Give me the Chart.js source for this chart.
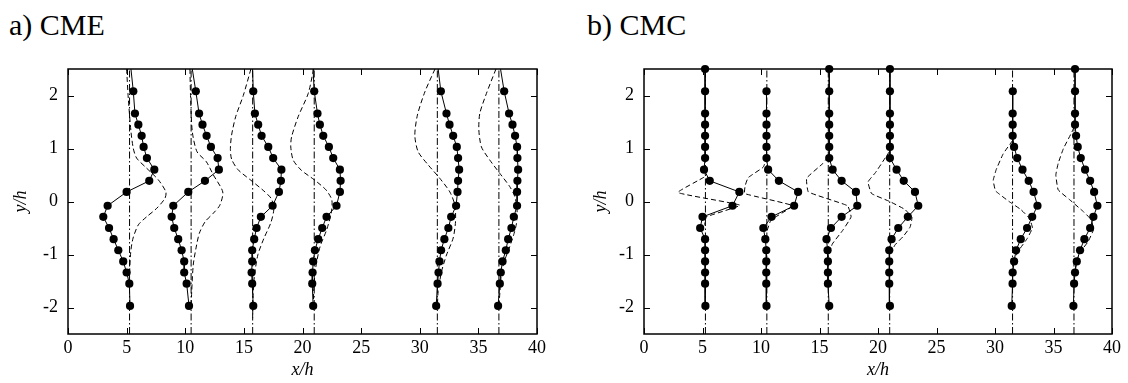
<!DOCTYPE html>
<html><head><meta charset="utf-8">
<script src="https://cdn.jsdelivr.net/npm/chart.js@4/dist/chart.umd.min.js"></script>
<style>
html,body{margin:0;padding:0;background:#fff;}
body{width:1128px;height:383px;position:relative;overflow:hidden;}
.ttl{position:absolute;font-family:"Liberation Serif","Times New Roman",serif;font-size:30px;line-height:30px;color:#000;white-space:nowrap;}
canvas{position:absolute;top:0;}
</style></head><body>
<div class="ttl" style="left:9px;top:10px">a) CME</div>
<div class="ttl" style="left:587px;top:10px">b) CMC</div>
<canvas id="cA" width="560" height="383" style="left:0"></canvas>
<canvas id="cB" width="568" height="383" style="left:560px"></canvas>
<script>
// ---- data ----
const yLevels = [2.5, 2.08, 1.66, 1.45, 1.24, 1.03, 0.82, 0.60, 0.39, 0.18, -0.08, -0.29, -0.50, -0.71, -0.92, -1.13, -1.34, -1.55, -1.97];
const stations = [5.25, 10.5, 15.75, 21, 31.5, 36.75];
const xTicks = [0, 5, 10, 15, 20, 25, 30, 35, 40];
const yTicks = [-2, -1, 0, 1, 2];

// CME measured profiles (x/h position of each dot, aligned with yLevels; first entry = line end at top)
const cme1 = [5.37, 5.57, 5.71, 6.0, 6.28, 6.45, 6.73, 7.36, 6.93, 5.0, 3.38, 3.01, 3.50, 3.89, 4.29, 4.71, 5.0, 5.23, 5.29];
const cme2 = [10.6, 10.9, 11.18, 11.47, 11.82, 12.19, 12.76, 12.87, 11.68, 10.26, 8.98, 8.84, 9.06, 9.40, 9.69, 9.91, 9.91, 10.12, 10.32];
const cme3 = [15.74, 15.8, 15.94, 16.22, 16.51, 17.08, 17.50, 18.2, 18.16, 17.99, 17.45, 16.45, 16.08, 15.88, 15.71, 15.71, 15.66, 15.71, 15.80];
const cme4 = [20.9, 21.0, 21.28, 21.48, 21.77, 22.25, 22.62, 23.19, 23.25, 23.19, 22.9, 22.05, 21.68, 21.34, 21.06, 20.91, 20.86, 20.83, 20.91];
const cme5 = [31.57, 31.8, 32.28, 32.54, 32.85, 33.16, 33.27, 33.36, 33.27, 33.22, 33.1, 32.68, 32.44, 32.1, 31.82, 31.68, 31.6, 31.52, 31.4];
const cme6 = [36.89, 37.2, 37.62, 37.91, 38.13, 38.3, 38.33, 38.39, 38.33, 38.3, 38.3, 38.02, 37.82, 37.54, 37.34, 37.06, 36.91, 36.83, 36.68];

// CMC measured profiles (null = no dot)
const cmc1 = [5.22, 5.22, 5.22, 5.22, 5.22, 5.22, 5.22, 5.13, 5.62, 8.15, 7.56, 5.0, 4.8, 5.22, 5.22, 5.22, 5.22, 5.22, 5.25];
const cmc2 = [null, 10.47, 10.47, 10.47, 10.47, 10.47, 10.47, 10.61, 11.53, 13.17, 12.83, 10.9, 10.2, 10.37, 10.45, 10.45, 10.45, 10.45, 10.47];
const cmc3 = [15.83, 15.83, 15.83, 15.83, 15.83, 15.83, 15.83, 16.12, 16.89, 18.11, 18.23, 16.89, 15.98, 15.6, 15.69, 15.72, 15.72, 15.72, 15.83];
const cmc4 = [21.02, 21.02, 21.02, 21.02, 21.02, 21.02, 21.02, 21.59, 22.2, 23.16, 23.44, 22.55, 21.73, 21.16, 20.96, 20.96, 20.96, 20.96, 21.02];
const cmc5 = [null, 31.52, 31.51, 31.51, 31.51, 31.63, 31.9, 32.35, 32.88, 33.3, 33.63, 33.18, 32.74, 32.2, 31.8, 31.63, 31.51, 31.5, 31.43];
const cmc6 = [36.84, 36.84, 36.84, 36.84, 36.93, 37.07, 37.33, 37.7, 38.13, 38.47, 38.75, 38.41, 38.13, 37.64, 37.27, 36.99, 36.84, 36.76, 36.7];

// model curves: [y/h, x/h] pairs
const cmeDash1 = [[2.5,5.0],[1.95,5.14],[1.32,5.37],[1.0,5.57],[0.82,5.85],[0.63,6.7],[0.41,7.7],[0.18,8.35],[0.06,8.27],[-0.13,7.56],[-0.29,6.7],[-0.44,6.0],[-0.69,5.55],[-0.95,5.35],[-1.5,5.22]];
const cmeDash2 = [[2.5,10.4],[2.0,10.45],[1.32,10.6],[0.94,11.0],[0.75,11.8],[0.5,12.4],[0.18,13.2],[-0.07,12.95],[-0.22,12.4],[-0.38,11.7],[-0.6,11.2],[-0.9,10.9],[-1.2,10.68],[-1.7,10.55],[-2.0,10.5]];
const cmeDash3 = [[2.5,15.6],[2.0,14.95],[1.6,14.3],[1.25,13.95],[1.0,13.85],[0.8,13.95],[0.6,14.5],[0.4,15.6],[0.2,16.7],[0.05,17.35],[-0.15,17.55],[-0.4,17.3],[-0.7,16.7],[-1.0,16.2],[-1.4,15.9],[-1.8,15.78],[-2.2,15.75]];
const cmeDash4 = [[2.5,20.95],[2.04,20.49],[1.6,19.63],[1.22,19.07],[1.03,19.0],[0.78,19.21],[0.59,19.9],[0.41,21.0],[0.22,22.0],[0.03,22.5],[-0.22,22.45],[-0.54,22.05],[-0.85,21.5],[-1.23,21.14],[-1.61,20.97],[-2.0,20.92]];
const cmeDash5 = [[2.5,31.3],[2.07,30.44],[1.63,29.8],[1.25,29.58],[0.94,29.86],[0.69,30.72],[0.44,31.7],[0.18,32.57],[-0.07,33.0],[-0.38,33.05],[-0.69,32.85],[-1.01,32.28],[-1.32,31.86],[-1.7,31.57],[-2.0,31.5]];
const cmeDash6 = [[2.5,36.5],[2.04,35.69],[1.66,35.12],[1.35,35.04],[1.03,35.26],[0.78,35.98],[0.53,36.83],[0.28,37.68],[0.09,38.11],[-0.16,38.3],[-0.41,38.25],[-0.6,38.05],[-0.85,37.68],[-1.1,37.26],[-1.35,36.97],[-1.73,36.83],[-2.0,36.75]];

const cmcDash1 = [[0.6,5.25],[0.47,5.2],[0.17,2.9],[-0.07,8.2],[-0.3,5.2],[-0.45,5.2]];
const cmcDash2 = [[0.85,10.5],[0.65,10.2],[0.45,8.9],[0.3,8.65],[0.15,8.6],[-0.08,12.7],[-0.35,10.85],[-0.6,10.45]];
const cmcDash3 = [[0.85,15.75],[0.72,15.3],[0.44,13.9],[0.18,14.05],[-0.08,17.4],[-0.29,17.7],[-0.54,17.0],[-0.8,16.1],[-1.0,15.8]];
const cmcDash4 = [[0.95,21.0],[0.85,20.7],[0.55,19.8],[0.37,19.15],[0.15,19.45],[0.0,21.0],[-0.15,22.3],[-0.3,22.9],[-0.48,22.75],[-0.66,22.15],[-0.82,21.45],[-1.0,21.05]];
const cmcDash5 = [[1.15,31.5],[0.9,30.7],[0.6,30.1],[0.4,29.85],[0.2,30.05],[0.0,31.2],[-0.15,32.2],[-0.32,32.95],[-0.5,33.2],[-0.7,32.75],[-0.9,32.1],[-1.07,31.7],[-1.3,31.5]];
const cmcDash6 = [[1.4,36.75],[1.3,36.55],[1.0,35.85],[0.72,35.4],[0.5,35.2],[0.22,35.4],[0.03,36.4],[-0.19,37.55],[-0.35,38.25],[-0.54,38.4],[-0.76,37.95],[-0.92,37.4],[-1.1,37.0],[-1.35,36.8]];

// ---- drawing ----
const SERIF = '"Liberation Serif","Times New Roman",serif';

const framePlugin = {
  id: 'frame',
  beforeDatasetsDraw(chart) {
    const {ctx, chartArea: a, scales: {x, y}} = chart;
    ctx.save();
    ctx.strokeStyle = '#000';
    ctx.lineWidth = 1;
    const tl = 6;
    ctx.beginPath();
    xTicks.forEach(v => {
      const p = Math.round(x.getPixelForValue(v)) + 0.5;
      ctx.moveTo(p, a.bottom); ctx.lineTo(p, a.bottom - tl);
      ctx.moveTo(p, a.top); ctx.lineTo(p, a.top + tl);
    });
    yTicks.forEach(v => {
      const p = Math.round(y.getPixelForValue(v)) + 0.5;
      ctx.moveTo(a.left, p); ctx.lineTo(a.left + tl, p);
      ctx.moveTo(a.right, p); ctx.lineTo(a.right - tl, p);
    });
    ctx.stroke();
    ctx.lineWidth = 1.5;
    ctx.strokeRect(a.left, a.top, a.right - a.left, a.bottom - a.top);
    ctx.restore();
  }
};

function buildDatasets(profiles, dashes, hideTop, tension) {
  const ds = [];
  stations.forEach(s => ds.push({
    data: [{x: s, y: -2.5}, {x: s, y: 2.5}], showLine: true,
    borderColor: '#000', borderWidth: 1, borderDash: [7, 2.5, 1.5, 2.5], pointRadius: 0
  }));
  dashes.forEach(d => ds.push({
    data: d.map(p => ({x: p[1], y: p[0]})), showLine: true, tension: tension,
    borderColor: '#000', borderWidth: 1, borderDash: [5, 3], pointRadius: 0
  }));
  profiles.forEach(xs => {
    const pts = [];
    const rad = [];
    xs.forEach((v, i) => {
      if (v === null) return;
      pts.push({x: v, y: yLevels[i]});
      rad.push(hideTop && i === 0 ? 0 : 4.1);
    });
    ds.push({
      data: pts, showLine: true, borderColor: '#000', borderWidth: 1,
      pointRadius: rad, pointBackgroundColor: '#000', pointBorderColor: '#000',
      pointBorderWidth: 0, clip: false
    });
  });
  return ds;
}

function makeChart(id, profiles, dashes, hideTop, tension, yWidth, padRight, yTitlePad) {
  return new Chart(document.getElementById(id), {
    type: 'scatter',
    data: {datasets: buildDatasets(profiles, dashes, hideTop, tension)},
    plugins: [framePlugin],
    options: {
      responsive: false, animation: false, devicePixelRatio: 1,
      layout: {padding: {left: 0, right: padRight, top: 69, bottom: 0}},
      plugins: {legend: {display: false}, tooltip: {enabled: false}, title: {display: false}},
      scales: {
        x: {
          type: 'linear', min: 0, max: 40,
          afterBuildTicks: s => { s.ticks = xTicks.map(v => ({value: v})); },
          afterFit: s => { s.height = 49; },
          grid: {display: false, drawTicks: false}, border: {display: false},
          ticks: {padding: 3, color: '#000', font: {family: SERIF, size: 18}, maxRotation: 0, autoSkip: false},
          title: {display: true, text: 'x/h', color: '#000', font: {family: SERIF, size: 18, style: 'italic'}, padding: {top: 0, bottom: 2}}
        },
        y: {
          type: 'linear', min: -2.5, max: 2.5,
          afterBuildTicks: s => { s.ticks = yTicks.map(v => ({value: v})); },
          afterFit: s => { s.width = yWidth; },
          grid: {display: false, drawTicks: false}, border: {display: false},
          ticks: {padding: 10, color: '#000', font: {family: SERIF, size: 18}, autoSkip: false},
          title: {display: true, text: 'y/h', color: '#000', font: {family: SERIF, size: 18, style: 'italic'}, padding: {top: yTitlePad, bottom: 0}}
        }
      }
    }
  });
}

makeChart('cA', [cme1, cme2, cme3, cme4, cme5, cme6], [cmeDash1, cmeDash2, cmeDash3, cmeDash4, cmeDash5, cmeDash6], true, 0.25, 68, 23, 10);
makeChart('cB', [cmc1, cmc2, cmc3, cmc4, cmc5, cmc6], [cmcDash1, cmcDash2, cmcDash3, cmcDash4, cmcDash5, cmcDash6], false, 0.1, 84, 16, 30);
</script>
</body></html>
